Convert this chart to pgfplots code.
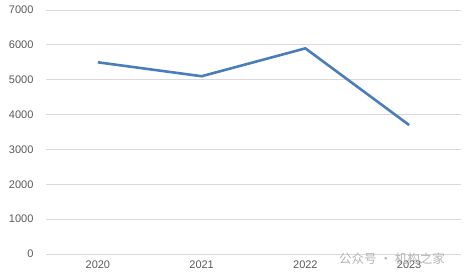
\documentclass[border=0pt]{standalone}
\usepackage{pgfplots}
\pgfplotsset{compat=1.18}
\usepackage{fontspec}
\setmainfont{Liberation Sans}
\newfontfamily\cjk{Noto Sans CJK SC}
\definecolor{lineblue}{HTML}{4A7EBB}
\definecolor{gridgray}{HTML}{D9D9D9}
\definecolor{textgray}{HTML}{595959}
\definecolor{wmgray}{HTML}{B4B4B4}
\begin{document}
\begin{tikzpicture}
\useasboundingbox (0,0) rectangle (469pt,279pt);
\begin{axis}[
  at={(46pt,25pt)}, anchor=south west,
  scale only axis, width=415pt, height=244pt,
  xmin=-0.5, xmax=3.5, ymin=0, ymax=7000,
  xtick={0,1,2,3}, xticklabels={2020,2021,2022,2023},
  ytick={0,1000,...,7000},
  axis line style={draw=none},
  major tick length=0pt,
  ymajorgrids, grid style={gridgray, line width=0.8pt},
  tick label style={font=\fontsize{11}{13}\selectfont, text=textgray},
  /pgf/number format/assume math mode=true,
  /pgf/number format/1000 sep={},
  yticklabel style={xshift=-9pt},
  xticklabel style={yshift=-3pt},
  clip=false,
]
\addplot[lineblue, line width=2.6pt, line join=round] coordinates {(0,5500) (1,5100) (2,5900) (3,3700)};
\end{axis}
\node[anchor=west, text=wmgray, font=\cjk\fontsize{12.5}{14}\selectfont, inner sep=0pt] at (339pt,20pt) {公众号 · 机构之家};
\end{tikzpicture}
\end{document}
